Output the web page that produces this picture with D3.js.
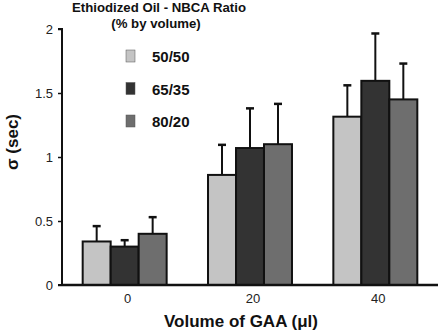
<!DOCTYPE html>
<html>
<head>
<meta charset="utf-8">
<script src="https://cdn.jsdelivr.net/npm/d3@7"></script>
<style>
body { margin: 0; background: #fff; }
text { font-family: "Liberation Sans", Arial, sans-serif; }
</style>
</head>
<body>
<svg id="chart" width="440" height="333"></svg>
<script>
const categories = ["0", "20", "40"];
const seriesNames = ["50/50", "65/35", "80/20"];
const means = [
  [0.34, 0.86, 1.315],   // 50/50
  [0.30, 1.07, 1.595],   // 65/35
  [0.40, 1.10, 1.45]     // 80/20
];
const upper = [
  [0.46, 1.095, 1.56],
  [0.35, 1.38, 1.965],
  [0.53, 1.415, 1.73]
];
const yTicks = [0, 0.5, 1, 1.5, 2];
const yTickLabels = ["0", "0.5", "1", "1.5", "2"];
const colors = ["#c4c4c4", "#333333", "#6e6e6e"];

const svg = d3.select("#chart");
const x0 = d3.scaleBand().domain(categories).range([62, 438]).paddingInner(0.33).paddingOuter(0.165);
const x1 = d3.scaleBand().domain(seriesNames).range([0, x0.bandwidth()]);
const y = d3.scaleLinear().domain([0, 2]).range([285, 29]);

// bars
seriesNames.forEach((s, si) => {
  const g = svg.append("g");
  categories.forEach((c, ci) => {
    const bx = x0(c) + x1(s);
    g.append("line")
      .attr("x1", bx + x1.bandwidth() / 2).attr("x2", bx + x1.bandwidth() / 2)
      .attr("y1", y(means[si][ci])).attr("y2", y(upper[si][ci]))
      .attr("stroke", "#111").attr("stroke-width", 2);
    g.append("line")
      .attr("x1", bx + x1.bandwidth() / 2 - 4).attr("x2", bx + x1.bandwidth() / 2 + 4)
      .attr("y1", y(upper[si][ci])).attr("y2", y(upper[si][ci]))
      .attr("stroke", "#111").attr("stroke-width", 2.5);
  });
  categories.forEach((c, ci) => {
    const bx = x0(c) + x1(s);
    g.append("rect")
      .attr("x", bx).attr("y", y(means[si][ci]))
      .attr("width", x1.bandwidth()).attr("height", y(0) - y(means[si][ci]))
      .attr("fill", colors[si]).attr("stroke", "#111").attr("stroke-width", 2);
  });
});

// y axis
const yAxis = d3.axisLeft(y).tickValues(yTicks).tickFormat((d, i) => yTickLabels[i]).tickSize(4).tickPadding(5);
const ya = svg.append("g").attr("transform", "translate(62,0)").call(yAxis);
ya.select(".domain").attr("stroke", "#111").attr("stroke-width", 2).attr("d", "M-4,29H0V285H-4");
ya.selectAll(".tick line").attr("stroke", "#111").attr("stroke-width", 1.5);
ya.selectAll(".tick text").attr("font-size", 13).attr("fill", "#222").style("font-family", "Liberation Sans, Arial, sans-serif");

// x axis
const xAxis = d3.axisBottom(x0).tickSize(0).tickPadding(9);
const xa = svg.append("g").attr("transform", "translate(0,285)").call(xAxis);
xa.select(".domain").attr("stroke", "#111").attr("stroke-width", 2.5).attr("d", "M62,0H438");
xa.selectAll(".tick text").attr("font-size", 13).attr("fill", "#222").attr("dx", 3).style("font-family", "Liberation Sans, Arial, sans-serif");

// axis labels
svg.append("text").attr("x", 241).attr("y", 327).attr("text-anchor", "middle")
  .attr("font-size", 17).attr("font-weight", "bold").attr("fill", "#111")
  .text("Volume of GAA (\u03bcl)");
svg.append("text").attr("transform", "translate(18,142) rotate(-90)").attr("text-anchor", "middle")
  .attr("font-size", 17).attr("font-weight", "bold").attr("fill", "#111")
  .text("\u03c3 (sec)");

// legend
svg.append("text").attr("x", 159).attr("y", 12).attr("text-anchor", "middle")
  .attr("font-size", 13.2).attr("font-weight", "bold").attr("fill", "#111")
  .text("Ethiodized Oil - NBCA Ratio");
svg.append("text").attr("x", 156).attr("y", 28).attr("text-anchor", "middle")
  .attr("font-size", 13.2).attr("font-weight", "bold").attr("fill", "#111")
  .text("(% by volume)");
const leg = svg.append("g");
seriesNames.forEach((s, i) => {
  const cy = 56 + i * 32.5;
  leg.append("rect").attr("x", 126).attr("y", cy - 6).attr("width", 9).attr("height", 12)
    .attr("fill", colors[i]).attr("stroke", "#555").attr("stroke-width", 0.5);
  leg.append("text").attr("x", 152).attr("y", cy + 6).attr("font-size", 15).attr("font-weight", "bold")
    .attr("fill", "#111").text(s);
});
</script>
</body>
</html>
